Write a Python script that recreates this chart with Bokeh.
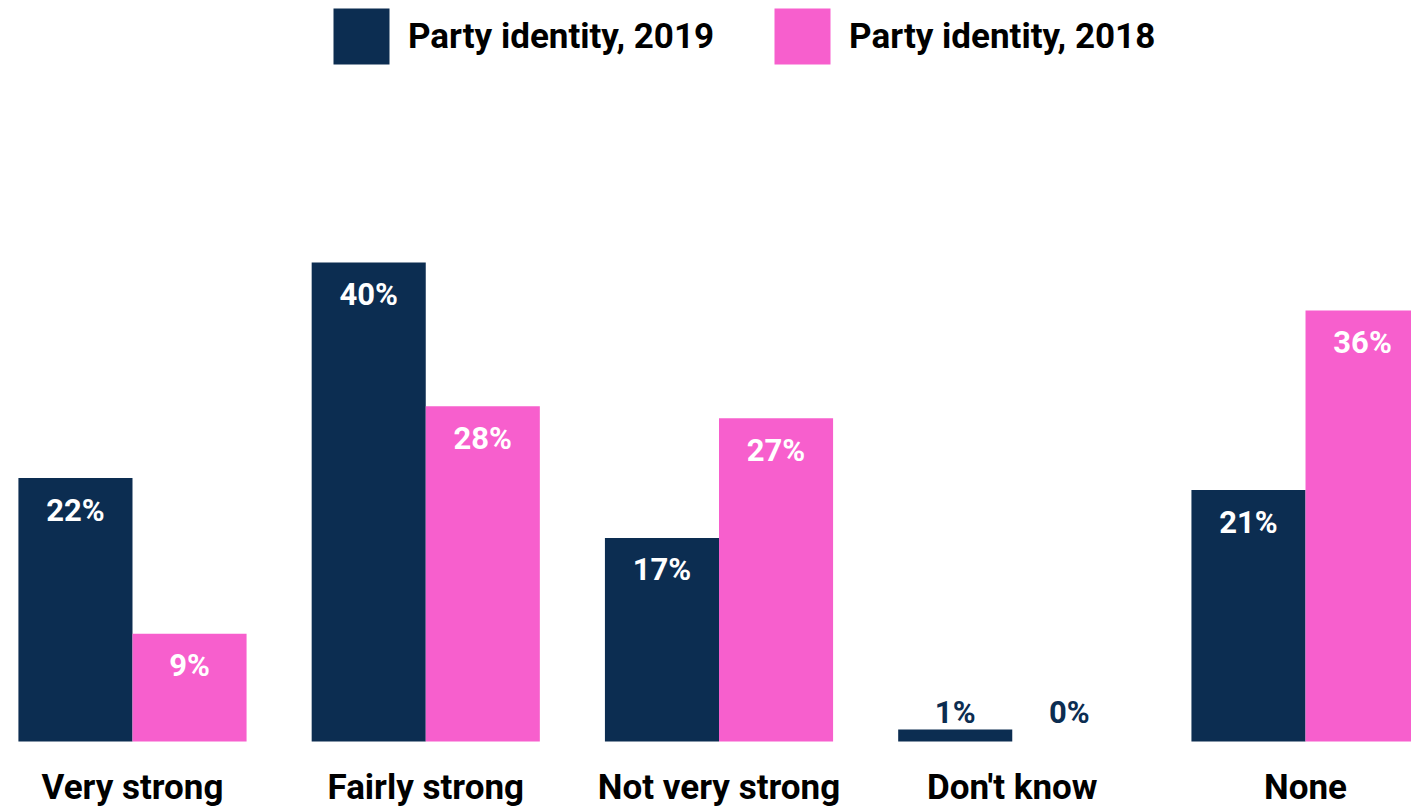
from bokeh.plotting import figure
from bokeh.models import ColumnDataSource, Range1d, Legend, LegendItem
from bokeh.core.properties import value
from bokeh.embed import file_html
from bokeh.resources import INLINE

categories = ["Very strong", "Fairly strong", "Not very strong", "Don't know", "None"]
series_names = ["Party identity, 2019", "Party identity, 2018"]
values_2019 = [22, 40, 17, 1, 21]
values_2018 = [9, 28, 27, 0, 36]

NAVY = "#0c2d51"
PINK = "#f75fcd"
FONT = "Roboto"

idx = list(range(len(categories)))
bw = 0.389
half = bw / 2

def label_props(vals):
    ly, col = [], []
    for v in vals:
        if v < 5:
            ly.append(5.1)
            col.append(NAVY)
        else:
            ly.append(v)
            col.append("white")
    return ly, col

ly19, c19 = label_props(values_2019)
ly18, c18 = label_props(values_2018)

src19 = ColumnDataSource(dict(x=[i - half for i in idx], top=values_2019,
                              ly=ly19, lc=c19, lab=[f"{v}%" for v in values_2019]))
src18 = ColumnDataSource(dict(x=[i + half for i in idx], top=values_2018,
                              ly=ly18, lc=c18, lab=[f"{v}%" for v in values_2018]))
srccat = ColumnDataSource(dict(x=idx, y=[0] * len(idx), name=categories))

W, H = 1411, 807
p = figure(width=W, height=H, output_backend="svg", toolbar_location=None,
           x_range=Range1d(-0.4501, 4.3614), y_range=Range1d(-5.51, 61.88),
           min_border=0, min_border_left=0, min_border_right=0,
           min_border_top=0, min_border_bottom=0)
p.axis.visible = False
p.grid.visible = False
p.outline_line_color = None
p.background_fill_color = "white"
p.border_fill_color = "white"

r19 = p.vbar(x="x", top="top", bottom=0, width=bw, source=src19,
             fill_color=NAVY, line_color=None)
r18 = p.vbar(x="x", top="top", bottom=0, width=bw, source=src18,
             fill_color=PINK, line_color=None)

for s in (src19, src18):
    p.text(x="x", y="ly", text="lab", source=s, text_color="lc",
           text_align="center", text_baseline="middle", y_offset=32,
           text_font=value(FONT), text_font_style="bold", text_font_size="31px")

p.text(x="x", y="y", text="name", source=srccat, text_color="black",
       text_align="center", text_baseline="middle", y_offset=46,
       text_font=value(FONT), text_font_style="bold", text_font_size="35px")

legend = Legend(items=[LegendItem(label=series_names[0], renderers=[r19]),
                       LegendItem(label=series_names[1], renderers=[r18])],
                orientation="horizontal", location=(326, H - 1 - 70),
                glyph_width=70, glyph_height=70, label_height=70,
                label_standoff=12, spacing=53, padding=0, margin=0,
                border_line_color=None, background_fill_alpha=0,
                label_text_font=FONT, label_text_font_style="bold",
                label_text_font_size="35px", label_text_color="black",
                label_text_baseline="middle")
p.add_layout(legend, "center")

open("out.html", "w").write(file_html(p, INLINE))
